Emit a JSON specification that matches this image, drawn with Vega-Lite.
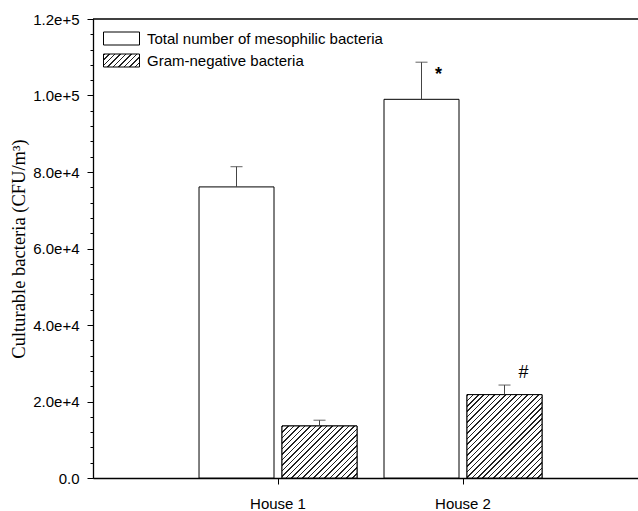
{
  "$schema": "https://vega.github.io/schema/vega-lite/v6.json",
  "width": 545,
  "height": 459,
  "autosize": {"type": "none"},
  "padding": {"left": 93, "top": 19, "right": 0, "bottom": 33},
  "background": "white",
  "datasets": {
    "bars": [
      {"house": "House 1", "series": "Total number of mesophilic bacteria", "value": 76100, "upper": 81400},
      {"house": "House 1", "series": "Gram-negative bacteria", "value": 13600, "upper": 15100},
      {"house": "House 2", "series": "Total number of mesophilic bacteria", "value": 99000, "upper": 108700},
      {"house": "House 2", "series": "Gram-negative bacteria", "value": 21800, "upper": 24300}
    ],
    "notes": [
      {"house": "House 2", "series": "Total number of mesophilic bacteria", "y": 104000, "label": "*"},
      {"house": "House 2", "series": "Gram-negative bacteria", "y": 26100, "label": "#"}
    ],
    "frame": [{"top": 120000}]
  },
  "resolve": {"axis": {"y": "independent"}},
  "layer": [
    {
      "data": {"name": "bars"},
      "mark": {"type": "bar", "stroke": "black", "strokeWidth": 1},
      "encoding": {
        "x": {"field": "house", "type": "nominal", "title": null,
          "scale": {"paddingInner": 0.14595, "paddingOuter": 0.546, "align": 0.5248},
          "axis": {"labelAngle": 0, "labelPadding": 12}},
        "xOffset": {"field": "series", "type": "nominal",
          "scale": {"domain": ["Total number of mesophilic bacteria", "Gram-negative bacteria"], "paddingInner": 0.0964, "paddingOuter": 0}},
        "y": {"field": "value", "type": "quantitative",
          "scale": {"domain": [0, 120000], "nice": false},
          "axis": {"title": "Culturable bacteria (CFU/m³)", "titleFont": "Liberation Serif", "titleFontSize": 18.5, "titleFontWeight": "normal", "titleColor": "black", "titlePadding": 4,
            "values": [0, 20000, 40000, 60000, 80000, 100000, 120000],
            "labelExpr": "datum.value == 0 ? '0.0' : format(datum.value, '.1e')",
            "labelPadding": 8, "tickSize": 6}},
        "fill": {"field": "series", "type": "nominal",
          "scale": {"domain": ["Total number of mesophilic bacteria", "Gram-negative bacteria"],
            "range": ["white", {"expr": "{gradient: 'linear', x1: 0, y1: 0, x2: 1.204, y2: 0.4348, stops: [{offset: 0, color: '#222'}, {offset: 0.0311, color: '#222'}, {offset: 0.0311, color: '#fff'}, {offset: 0.1111, color: '#fff'}, {offset: 0.1111, color: '#222'}, {offset: 0.1422, color: '#222'}, {offset: 0.1422, color: '#fff'}, {offset: 0.2222, color: '#fff'}, {offset: 0.2222, color: '#222'}, {offset: 0.2533, color: '#222'}, {offset: 0.2533, color: '#fff'}, {offset: 0.3333, color: '#fff'}, {offset: 0.3333, color: '#222'}, {offset: 0.3644, color: '#222'}, {offset: 0.3644, color: '#fff'}, {offset: 0.4444, color: '#fff'}, {offset: 0.4444, color: '#222'}, {offset: 0.4755, color: '#222'}, {offset: 0.4755, color: '#fff'}, {offset: 0.5556, color: '#fff'}, {offset: 0.5556, color: '#222'}, {offset: 0.5867, color: '#222'}, {offset: 0.5867, color: '#fff'}, {offset: 0.6667, color: '#fff'}, {offset: 0.6667, color: '#222'}, {offset: 0.6978, color: '#222'}, {offset: 0.6978, color: '#fff'}, {offset: 0.7778, color: '#fff'}, {offset: 0.7778, color: '#222'}, {offset: 0.8089, color: '#222'}, {offset: 0.8089, color: '#fff'}, {offset: 0.8889, color: '#fff'}, {offset: 0.8889, color: '#222'}, {offset: 0.92, color: '#222'}, {offset: 0.92, color: '#fff'}, {offset: 1, color: '#fff'}]}"}]},
          "legend": {
            "title": null, "orient": "none", "legendX": 18, "legendY": 9, "padding": 0,
            "symbolType": "M-1.8,-0.65H1.8V0.65H-1.8Z", "symbolSize": 400,
            "symbolStrokeColor": "black", "symbolStrokeWidth": 1,
            "labelFont": "Liberation Sans", "labelFontSize": 15, "labelColor": "black", "labelOffset": 15, "labelLimit": 400, "rowPadding": 3
          }}
      }
    },
    {
      "data": {"name": "bars"},
      "transform": [{"filter": "datum.house === 'House 1' && datum.series === 'Gram-negative bacteria'"}],
      "mark": {"type": "bar", "stroke": "black", "strokeWidth": 1,
        "fill": {"gradient": "linear", "x1": 0, "y1": 0, "x2": 1.1435, "y2": 0.7931, "stops": [
          {"offset": 0, "color": "#222"}, {"offset": 0.0122, "color": "#222"}, {"offset": 0.0122, "color": "#fff"}, {"offset": 0.0435, "color": "#fff"},
          {"offset": 0.0435, "color": "#222"}, {"offset": 0.0557, "color": "#222"}, {"offset": 0.0557, "color": "#fff"}, {"offset": 0.0870, "color": "#fff"},
          {"offset": 0.0870, "color": "#222"}, {"offset": 0.0992, "color": "#222"}, {"offset": 0.0992, "color": "#fff"}, {"offset": 0.1304, "color": "#fff"},
          {"offset": 0.1304, "color": "#222"}, {"offset": 0.1426, "color": "#222"}, {"offset": 0.1426, "color": "#fff"}, {"offset": 0.1739, "color": "#fff"},
          {"offset": 0.1739, "color": "#222"}, {"offset": 0.1861, "color": "#222"}, {"offset": 0.1861, "color": "#fff"}, {"offset": 0.2174, "color": "#fff"},
          {"offset": 0.2174, "color": "#222"}, {"offset": 0.2296, "color": "#222"}, {"offset": 0.2296, "color": "#fff"}, {"offset": 0.2609, "color": "#fff"},
          {"offset": 0.2609, "color": "#222"}, {"offset": 0.2731, "color": "#222"}, {"offset": 0.2731, "color": "#fff"}, {"offset": 0.3043, "color": "#fff"},
          {"offset": 0.3043, "color": "#222"}, {"offset": 0.3165, "color": "#222"}, {"offset": 0.3165, "color": "#fff"}, {"offset": 0.3478, "color": "#fff"},
          {"offset": 0.3478, "color": "#222"}, {"offset": 0.3600, "color": "#222"}, {"offset": 0.3600, "color": "#fff"}, {"offset": 0.3913, "color": "#fff"},
          {"offset": 0.3913, "color": "#222"}, {"offset": 0.4035, "color": "#222"}, {"offset": 0.4035, "color": "#fff"}, {"offset": 0.4348, "color": "#fff"},
          {"offset": 0.4348, "color": "#222"}, {"offset": 0.4470, "color": "#222"}, {"offset": 0.4470, "color": "#fff"}, {"offset": 0.4783, "color": "#fff"},
          {"offset": 0.4783, "color": "#222"}, {"offset": 0.4905, "color": "#222"}, {"offset": 0.4905, "color": "#fff"}, {"offset": 0.5217, "color": "#fff"},
          {"offset": 0.5217, "color": "#222"}, {"offset": 0.5339, "color": "#222"}, {"offset": 0.5339, "color": "#fff"}, {"offset": 0.5652, "color": "#fff"},
          {"offset": 0.5652, "color": "#222"}, {"offset": 0.5774, "color": "#222"}, {"offset": 0.5774, "color": "#fff"}, {"offset": 0.6087, "color": "#fff"},
          {"offset": 0.6087, "color": "#222"}, {"offset": 0.6209, "color": "#222"}, {"offset": 0.6209, "color": "#fff"}, {"offset": 0.6522, "color": "#fff"},
          {"offset": 0.6522, "color": "#222"}, {"offset": 0.6644, "color": "#222"}, {"offset": 0.6644, "color": "#fff"}, {"offset": 0.6957, "color": "#fff"},
          {"offset": 0.6957, "color": "#222"}, {"offset": 0.7079, "color": "#222"}, {"offset": 0.7079, "color": "#fff"}, {"offset": 0.7391, "color": "#fff"},
          {"offset": 0.7391, "color": "#222"}, {"offset": 0.7513, "color": "#222"}, {"offset": 0.7513, "color": "#fff"}, {"offset": 0.7826, "color": "#fff"},
          {"offset": 0.7826, "color": "#222"}, {"offset": 0.7948, "color": "#222"}, {"offset": 0.7948, "color": "#fff"}, {"offset": 0.8261, "color": "#fff"},
          {"offset": 0.8261, "color": "#222"}, {"offset": 0.8383, "color": "#222"}, {"offset": 0.8383, "color": "#fff"}, {"offset": 0.8696, "color": "#fff"},
          {"offset": 0.8696, "color": "#222"}, {"offset": 0.8818, "color": "#222"}, {"offset": 0.8818, "color": "#fff"}, {"offset": 0.9130, "color": "#fff"},
          {"offset": 0.9130, "color": "#222"}, {"offset": 0.9252, "color": "#222"}, {"offset": 0.9252, "color": "#fff"}, {"offset": 0.9565, "color": "#fff"},
          {"offset": 0.9565, "color": "#222"}, {"offset": 0.9687, "color": "#222"}, {"offset": 0.9687, "color": "#fff"}, {"offset": 1, "color": "#fff"}
        ]}},
      "encoding": {
        "x": {"field": "house", "type": "nominal", "title": null},
        "xOffset": {"field": "series", "type": "nominal"},
        "y": {"field": "value", "type": "quantitative", "axis": null}
      }
    },
    {
      "data": {"name": "bars"},
      "transform": [{"filter": "datum.house === 'House 2' && datum.series === 'Gram-negative bacteria'"}],
      "mark": {"type": "bar", "stroke": "black", "strokeWidth": 1,
        "fill": {"gradient": "linear", "x1": 0, "y1": 0, "x2": 0.9444, "y2": 1.05, "stops": [
          {"offset": 0, "color": "#222"}, {"offset": 0.0097, "color": "#222"}, {"offset": 0.0097, "color": "#fff"}, {"offset": 0.0345, "color": "#fff"},
          {"offset": 0.0345, "color": "#222"}, {"offset": 0.0442, "color": "#222"}, {"offset": 0.0442, "color": "#fff"}, {"offset": 0.0690, "color": "#fff"},
          {"offset": 0.0690, "color": "#222"}, {"offset": 0.0787, "color": "#222"}, {"offset": 0.0787, "color": "#fff"}, {"offset": 0.1034, "color": "#fff"},
          {"offset": 0.1034, "color": "#222"}, {"offset": 0.1131, "color": "#222"}, {"offset": 0.1131, "color": "#fff"}, {"offset": 0.1379, "color": "#fff"},
          {"offset": 0.1379, "color": "#222"}, {"offset": 0.1476, "color": "#222"}, {"offset": 0.1476, "color": "#fff"}, {"offset": 0.1724, "color": "#fff"},
          {"offset": 0.1724, "color": "#222"}, {"offset": 0.1821, "color": "#222"}, {"offset": 0.1821, "color": "#fff"}, {"offset": 0.2069, "color": "#fff"},
          {"offset": 0.2069, "color": "#222"}, {"offset": 0.2166, "color": "#222"}, {"offset": 0.2166, "color": "#fff"}, {"offset": 0.2414, "color": "#fff"},
          {"offset": 0.2414, "color": "#222"}, {"offset": 0.2511, "color": "#222"}, {"offset": 0.2511, "color": "#fff"}, {"offset": 0.2759, "color": "#fff"},
          {"offset": 0.2759, "color": "#222"}, {"offset": 0.2856, "color": "#222"}, {"offset": 0.2856, "color": "#fff"}, {"offset": 0.3103, "color": "#fff"},
          {"offset": 0.3103, "color": "#222"}, {"offset": 0.3200, "color": "#222"}, {"offset": 0.3200, "color": "#fff"}, {"offset": 0.3448, "color": "#fff"},
          {"offset": 0.3448, "color": "#222"}, {"offset": 0.3545, "color": "#222"}, {"offset": 0.3545, "color": "#fff"}, {"offset": 0.3793, "color": "#fff"},
          {"offset": 0.3793, "color": "#222"}, {"offset": 0.3890, "color": "#222"}, {"offset": 0.3890, "color": "#fff"}, {"offset": 0.4138, "color": "#fff"},
          {"offset": 0.4138, "color": "#222"}, {"offset": 0.4235, "color": "#222"}, {"offset": 0.4235, "color": "#fff"}, {"offset": 0.4483, "color": "#fff"},
          {"offset": 0.4483, "color": "#222"}, {"offset": 0.4580, "color": "#222"}, {"offset": 0.4580, "color": "#fff"}, {"offset": 0.4828, "color": "#fff"},
          {"offset": 0.4828, "color": "#222"}, {"offset": 0.4925, "color": "#222"}, {"offset": 0.4925, "color": "#fff"}, {"offset": 0.5172, "color": "#fff"},
          {"offset": 0.5172, "color": "#222"}, {"offset": 0.5269, "color": "#222"}, {"offset": 0.5269, "color": "#fff"}, {"offset": 0.5517, "color": "#fff"},
          {"offset": 0.5517, "color": "#222"}, {"offset": 0.5614, "color": "#222"}, {"offset": 0.5614, "color": "#fff"}, {"offset": 0.5862, "color": "#fff"},
          {"offset": 0.5862, "color": "#222"}, {"offset": 0.5959, "color": "#222"}, {"offset": 0.5959, "color": "#fff"}, {"offset": 0.6207, "color": "#fff"},
          {"offset": 0.6207, "color": "#222"}, {"offset": 0.6304, "color": "#222"}, {"offset": 0.6304, "color": "#fff"}, {"offset": 0.6552, "color": "#fff"},
          {"offset": 0.6552, "color": "#222"}, {"offset": 0.6649, "color": "#222"}, {"offset": 0.6649, "color": "#fff"}, {"offset": 0.6897, "color": "#fff"},
          {"offset": 0.6897, "color": "#222"}, {"offset": 0.6994, "color": "#222"}, {"offset": 0.6994, "color": "#fff"}, {"offset": 0.7241, "color": "#fff"},
          {"offset": 0.7241, "color": "#222"}, {"offset": 0.7338, "color": "#222"}, {"offset": 0.7338, "color": "#fff"}, {"offset": 0.7586, "color": "#fff"},
          {"offset": 0.7586, "color": "#222"}, {"offset": 0.7683, "color": "#222"}, {"offset": 0.7683, "color": "#fff"}, {"offset": 0.7931, "color": "#fff"},
          {"offset": 0.7931, "color": "#222"}, {"offset": 0.8028, "color": "#222"}, {"offset": 0.8028, "color": "#fff"}, {"offset": 0.8276, "color": "#fff"},
          {"offset": 0.8276, "color": "#222"}, {"offset": 0.8373, "color": "#222"}, {"offset": 0.8373, "color": "#fff"}, {"offset": 0.8621, "color": "#fff"},
          {"offset": 0.8621, "color": "#222"}, {"offset": 0.8718, "color": "#222"}, {"offset": 0.8718, "color": "#fff"}, {"offset": 0.8966, "color": "#fff"},
          {"offset": 0.8966, "color": "#222"}, {"offset": 0.9063, "color": "#222"}, {"offset": 0.9063, "color": "#fff"}, {"offset": 0.9310, "color": "#fff"},
          {"offset": 0.9310, "color": "#222"}, {"offset": 0.9407, "color": "#222"}, {"offset": 0.9407, "color": "#fff"}, {"offset": 0.9655, "color": "#fff"},
          {"offset": 0.9655, "color": "#222"}, {"offset": 0.9752, "color": "#222"}, {"offset": 0.9752, "color": "#fff"}, {"offset": 1, "color": "#fff"}
        ]}},
      "encoding": {
        "x": {"field": "house", "type": "nominal", "title": null},
        "xOffset": {"field": "series", "type": "nominal"},
        "y": {"field": "value", "type": "quantitative", "axis": null}
      }
    },
    {
      "data": {"name": "bars"},
      "mark": {"type": "rule", "color": "#444", "strokeWidth": 1},
      "encoding": {
        "x": {"field": "house", "type": "nominal", "title": null},
        "xOffset": {"field": "series", "type": "nominal"},
        "y": {"field": "value", "type": "quantitative", "axis": null},
        "y2": {"field": "upper"}
      }
    },
    {
      "data": {"name": "bars"},
      "mark": {"type": "tick", "color": "#444", "size": 12, "thickness": 1.2},
      "encoding": {
        "x": {"field": "house", "type": "nominal", "title": null},
        "xOffset": {"field": "series", "type": "nominal"},
        "y": {"field": "upper", "type": "quantitative", "axis": null}
      }
    },
    {
      "data": {"name": "notes"},
      "transform": [{"filter": "datum.label === '*'"}],
      "mark": {"type": "text", "font": "Liberation Sans", "fontSize": 18, "fontWeight": "bold", "dx": 17, "align": "center", "baseline": "alphabetic", "color": "black"},
      "encoding": {
        "x": {"field": "house", "type": "nominal", "title": null},
        "xOffset": {"field": "series", "type": "nominal"},
        "y": {"field": "y", "type": "quantitative", "axis": null},
        "text": {"field": "label"}
      }
    },
    {
      "data": {"name": "notes"},
      "transform": [{"filter": "datum.label === '#'"}],
      "mark": {"type": "text", "font": "Liberation Sans", "fontSize": 18, "dx": 19, "align": "center", "baseline": "alphabetic", "color": "black"},
      "encoding": {
        "x": {"field": "house", "type": "nominal", "title": null},
        "xOffset": {"field": "series", "type": "nominal"},
        "y": {"field": "y", "type": "quantitative", "axis": null},
        "text": {"field": "label"}
      }
    },
    {
      "data": {"name": "frame"},
      "mark": {"type": "rule", "color": "black", "strokeWidth": 1.3},
      "encoding": {
        "y": {"field": "top", "type": "quantitative",
          "axis": {"orient": "left", "title": null, "labels": false, "domain": false, "tickSize": 3,
            "values": [0, 4000, 8000, 12000, 16000, 20000, 24000, 28000, 32000, 36000, 40000, 44000, 48000, 52000, 56000, 60000, 64000, 68000, 72000, 76000, 80000, 84000, 88000, 92000, 96000, 100000, 104000, 108000, 112000, 116000, 120000]}}
      }
    }
  ],
  "config": {
    "view": {"stroke": null},
    "axis": {"domainColor": "black", "tickColor": "black", "labelColor": "black", "grid": false,
      "labelFont": "Liberation Sans", "labelFontSize": 15, "tickSize": 6, "domainWidth": 1.3, "tickWidth": 1}
  }
}
